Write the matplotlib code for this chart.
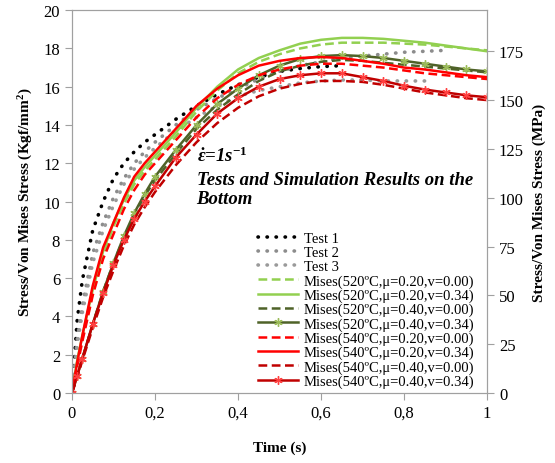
import matplotlib
matplotlib.use("Agg")
import matplotlib.pyplot as plt

plt.rcParams['font.family'] = ['Liberation Serif', 'DejaVu Serif']
plt.rcParams['mathtext.fontset'] = 'custom'
plt.rcParams['mathtext.rm'] = 'Liberation Serif:bold'
plt.rcParams['mathtext.it'] = 'Liberation Serif:italic:bold'
plt.rcParams['mathtext.bf'] = 'Liberation Serif:bold'

# time (s)
t = [0, 0.0125, 0.025, 0.05, 0.075, 0.1, 0.125, 0.15, 0.175, 0.2, 0.25, 0.3, 0.35,
     0.4, 0.45, 0.5, 0.55, 0.6, 0.65, 0.7, 0.75, 0.8, 0.85, 0.9, 0.95, 1.0]

# stress (Kgf/mm2)
test1 = [0, 3.8, 5.9, 8.5, 10.0, 11.2, 12.0, 12.6, 13.1, 13.5, 14.3, 15.0, 15.6,
         16.1, 16.5, 16.8, 16.95, 17.05, 17.1]
test2 = [0, 2.8, 4.6, 7.3, 8.9, 10.2, 11.2, 12.0, 12.6, 13.1, 14.0, 14.8, 15.4,
         15.9, 16.4, 16.8, 17.1, 17.3, 17.5, 17.6, 17.7, 17.8, 17.85, 17.9]
test3 = [0, 2.5, 4.2, 6.8, 8.5, 9.8, 10.9, 11.7, 12.3, 12.8, 13.7, 14.4, 15.0,
         15.5, 15.8, 16.0, 16.2, 16.3, 16.35, 16.35, 16.3, 16.3, 16.3]

m520_020_000 = [0, 1.6, 2.9, 5.2, 7.2, 8.7, 9.9, 10.9, 11.6, 12.2, 13.4, 14.7, 15.8,
                16.7, 17.3, 17.7, 18.0, 18.2, 18.3, 18.3, 18.3, 18.25, 18.2, 18.1,
                18.0, 17.9]
m520_020_034 = [0, 1.7, 3.0, 5.4, 7.4, 8.9, 10.1, 11.1, 11.8, 12.4, 13.6, 14.9, 16.0,
                16.9, 17.5, 17.9, 18.25, 18.45, 18.55, 18.55, 18.5, 18.4, 18.3, 18.15,
                18.0, 17.85]
m520_040_000 = [0, 0.9, 1.8, 3.6, 5.3, 6.8, 8.1, 9.3, 10.3, 11.1, 12.5, 13.8, 14.8,
                15.6, 16.3, 16.8, 17.1, 17.3, 17.4, 17.35, 17.25, 17.15, 17.05, 16.95,
                16.85, 16.75]
m520_040_034 = [0, 0.9, 1.8, 3.6, 5.3, 6.8, 8.2, 9.4, 10.4, 11.3, 12.7, 14.0, 15.1,
                15.9, 16.6, 17.1, 17.45, 17.6, 17.65, 17.6, 17.5, 17.35, 17.2, 17.05,
                16.9, 16.8]
m540_020_000 = [0, 1.4, 2.7, 5.1, 7.0, 8.3, 9.6, 10.6, 11.4, 12.0, 13.2, 14.4, 15.4,
                16.1, 16.6, 16.9, 17.1, 17.2, 17.2, 17.1, 17.0, 16.85, 16.7, 16.6,
                16.5, 16.4]
m540_020_034 = [0, 1.6, 3.0, 5.6, 7.6, 8.9, 10.2, 11.3, 12.0, 12.6, 13.8, 15.0, 15.9,
                16.6, 17.1, 17.35, 17.5, 17.55, 17.5, 17.35, 17.2, 17.0, 16.9, 16.75,
                16.6, 16.5]
m540_040_000 = [0, 0.8, 1.7, 3.4, 5.0, 6.4, 7.7, 8.8, 9.7, 10.5, 11.9, 13.1, 14.1,
                14.9, 15.5, 15.9, 16.15, 16.3, 16.3, 16.25, 16.1, 15.9, 15.7, 15.55,
                15.4, 15.3]
m540_040_034 = [0, 0.9, 1.8, 3.6, 5.2, 6.7, 8.0, 9.1, 10.0, 10.8, 12.3, 13.5, 14.6,
                15.4, 16.0, 16.4, 16.6, 16.7, 16.7, 16.5, 16.3, 16.05, 15.85, 15.7,
                15.55, 15.45]

xticks = [0, 0.2, 0.4, 0.6, 0.8, 1.0]
xtick_labels = ["0", "0,2", "0,4", "0,6", "0,8", "1"]
yticks_left = [0, 2, 4, 6, 8, 10, 12, 14, 16, 18, 20]
yticks_right = [0, 25, 50, 75, 100, 125, 150, 175]
kgf_to_mpa = 9.80665

fig = plt.figure(figsize=(5.55, 4.64), dpi=100)
ax = fig.add_axes([0.1297, 0.1509, 0.748, 0.8251])

dots = dict(linestyle=(0, (0.1, 2.4)), dash_capstyle='round', linewidth=2.6)
dash = dict(linestyle=(0, (3.5, 1.8)), linewidth=1.8)
solid = dict(linestyle='-', linewidth=1.8)
star = dict(marker=(6, 2, 0), markersize=6, markeredgewidth=1.0)

ax.plot(t[:len(test1)], test1, color='black', label='Test 1', **dots)
ax.plot(t[:len(test2)], test2, color='#8c8c8c', label='Test 2', **dots)
ax.plot(t[:len(test3)], test3, color='#9a9a9a', label='Test 3', **dots)
ax.plot(t, m520_020_000, color='#92D050', label='Mises(520ºC,μ=0.20,v=0.00)', **dash)
ax.plot(t, m520_020_034, color='#92D050', label='Mises(520ºC,μ=0.20,v=0.34)', **solid)
ax.plot(t, m520_040_000, color='#4F6228', label='Mises(520ºC,μ=0.40,v=0.00)', **dash)
ax.plot(t, m520_040_034, color='#4F6228', markeredgecolor='#9BBB59',
        label='Mises(520ºC,μ=0.40,v=0.34)', **solid, **star)
ax.plot(t, m540_020_000, color='#FF0000', label='Mises(540ºC,μ=0.20,v=0.00)', **dash)
ax.plot(t, m540_020_034, color='#FF0000', label='Mises(540ºC,μ=0.20,v=0.34)', **solid)
ax.plot(t, m540_040_000, color='#C00000', label='Mises(540ºC,μ=0.40,v=0.00)', **dash)
ax.plot(t, m540_040_034, color='#C00000', markeredgecolor='#FF4040',
        label='Mises(540ºC,μ=0.40,v=0.34)', **solid, **star)

ax.set_xlim(0, 1)
ax.set_ylim(0, 20)
ax.set_xticks(xticks)
ax.set_xticklabels(xtick_labels)
ax.set_yticks(yticks_left)
for s in ax.spines.values():
    s.set_color('#a0a0a0')
ax.tick_params(axis='both', labelsize=12, color='#a0a0a0', length=5)
ax.set_xlabel("Time (s)", fontsize=11, fontweight='bold', labelpad=14)
ax.set_ylabel("Stress/Von Mises Stress (Kgf/mm$^{2}$)", fontsize=11,
              fontweight='bold', labelpad=6)

ax2 = ax.twinx()
ax2.set_ylim(0, 20 * kgf_to_mpa)
ax2.set_yticks(yticks_right)
for s in ax2.spines.values():
    s.set_color('#a0a0a0')
ax2.tick_params(axis='y', labelsize=12, color='#a0a0a0', length=5)
ax2.set_ylabel("Stress/Von Mises Stress (MPa)", fontsize=11, fontweight='bold',
               labelpad=6)

ax.text(0.30, 12.1, r"$\dot{\varepsilon}$=1s$^{-1}$", fontsize=13.5,
        fontweight='bold', style='italic')
ax.text(0.30, 9.95, "Tests and Simulation Results on the\nBottom", fontsize=13.5,
        fontweight='bold', style='italic', linespacing=1.15)

ax.legend(loc='lower right', bbox_to_anchor=(0.99, -0.01), frameon=False,
          fontsize=10.5, handlelength=2.75, handletextpad=0.35, labelspacing=0.06,
          borderaxespad=0.2)

fig.savefig("out.png", dpi=100)
